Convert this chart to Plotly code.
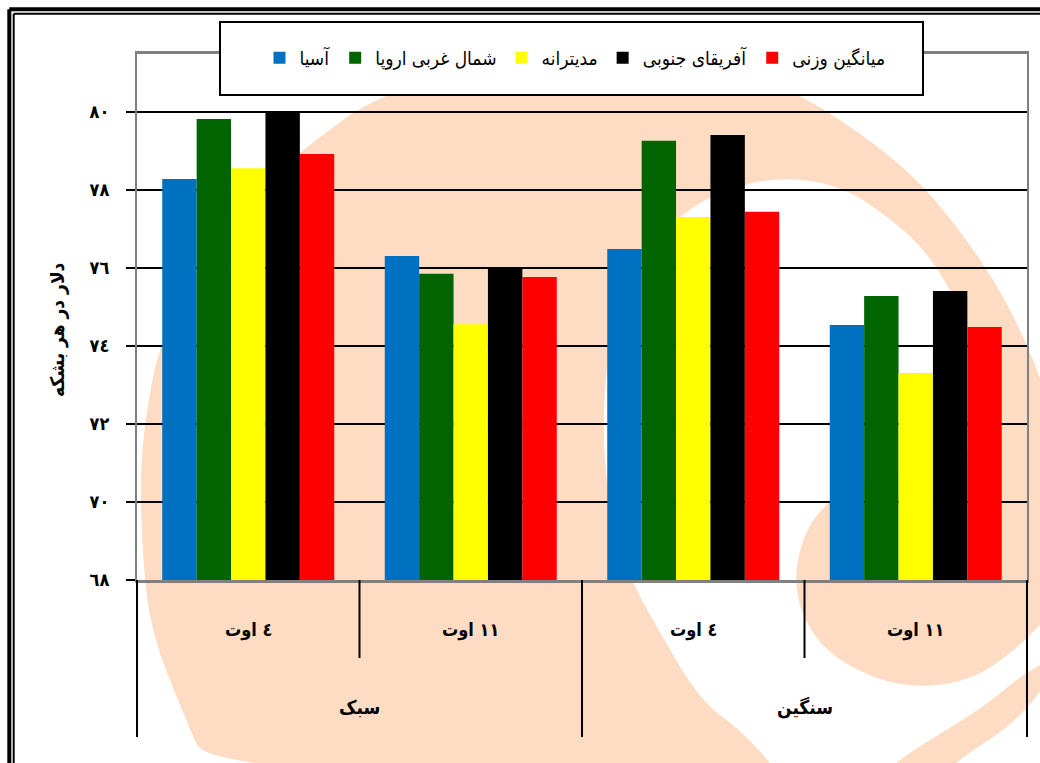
import plotly.graph_objects as go

# ---------------- data ----------------
outer_labels = ["سبک", "سنگین"]
inner_labels = ["٤ اوت", "١١ اوت", "٤ اوت", "١١ اوت"]
outer_of_inner = ["سبک", "سبک", "سنگین", "سنگین"]

series_names = ["آسیا", "شمال غربی اروپا", "مدیترانه", "آفریقای جنوبی", "میانگین وزنی"]
asia = [78.28, 76.31, 76.49, 74.54]
nw_europe = [79.82, 75.85, 79.26, 75.28]
mediterranean = [78.56, 74.56, 77.31, 73.31]
south_africa = [80.0, 76.0, 79.41, 75.41]
weighted_avg = [78.92, 75.77, 77.44, 74.49]

y_tickvals = [68, 70, 72, 74, 76, 78, 80]
y_ticktext = ["٦٨", "٧٠", "٧٢", "٧٤", "٧٦", "٧٨", "٨٠"]
y_title = "دلار در هر بشکه"

colors = ["#0070C0", "#006400", "#FFFF00", "#000000", "#FF0000"]
FONT = "DejaVu Sans Condensed, DejaVu Sans"

# ---------------- geometry helpers (layout only) ----------------
W, H = 1040, 763
L, R, T, B = 137, 1027, 54, 580


def fx(px):
    return (px - L) / (R - L)


def fy(py):
    return (B - py) / (B - T)


def smooth_path(pts):
    P = [(fx(x), fy(y)) for x, y in pts]
    n = len(P)
    mids = [((P[i][0] + P[(i + 1) % n][0]) / 2, (P[i][1] + P[(i + 1) % n][1]) / 2) for i in range(n)]
    d = f"M{mids[-1][0]:.4f},{mids[-1][1]:.4f}"
    for i in range(n):
        d += f" Q{P[i][0]:.4f},{P[i][1]:.4f} {mids[i][0]:.4f},{mids[i][1]:.4f}"
    return d + " Z"


cats = [f"{o} | {i}" for o, i in zip(outer_of_inner, inner_labels)]

fig = go.Figure()
for name, vals, col in zip(series_names,
                           [asia, nw_europe, mediterranean, south_africa, weighted_avg],
                           colors):
    fig.add_trace(go.Bar(x=cats, y=vals, name=name, marker=dict(color=col, line=dict(width=0))))

shapes = []
PEACH = "#FDDCC3"
# watermark: big swirl
big = [(210, 775), (183, 713), (152, 635), (143, 565), (140, 480), (145, 420), (158, 350),
       (180, 300), (215, 240), (260, 185), (313, 142), (370, 100), (470, 66), (600, 50),
       (720, 58), (807, 98), (873, 142), (923, 185), (967, 240), (1000, 290), (1025, 340),
       (1045, 390), (1060, 460), (1066, 560), (1060, 650), (1040, 695), (1005, 730),
       (965, 755), (940, 778)]
channel = [(603, 400), (612, 330), (645, 250), (700, 198), (773, 176), (840, 185), (890, 218),
           (925, 250), (952, 292), (975, 345), (988, 400), (995, 460), (1005, 530), (1025, 590),
           (1060, 630), (1072, 650), (1045, 662), (1018, 678), (990, 702), (950, 728),
           (905, 755), (880, 778), (780, 778), (768, 760), (740, 730), (700, 700), (657, 628),
           (623, 565), (605, 480)]
blob = [(990, 440), (950, 462), (900, 472), (845, 488), (810, 520), (795, 565), (798, 607),
        (823, 650), (873, 679), (923, 688), (973, 679), (1013, 652), (1045, 620), (1070, 590),
        (1070, 430), (1030, 400)]
for pts, colr in [(big, PEACH), (channel, "white"), (blob, PEACH)]:
    shapes.append(dict(type="path", xref="paper", yref="paper", path=smooth_path(pts),
                       fillcolor=colr, line=dict(width=0), layer="below"))

# outer double border (top and left edges visible; right/bottom lie outside the page)
for pos, wid in [(9.3, 4), (13.7, 2)]:
    shapes.append(dict(type="line", xref="paper", yref="paper", x0=fx(pos), x1=fx(1045),
                       y0=fy(pos), y1=fy(pos), line=dict(color="black", width=wid), layer="above"))
    shapes.append(dict(type="line", xref="paper", yref="paper", x0=fx(pos), x1=fx(pos),
                       y0=fy(pos), y1=fy(770), line=dict(color="black", width=wid), layer="above"))

# legend box
shapes.append(dict(type="rect", xref="paper", yref="paper", x0=fx(220), y0=fy(95), x1=fx(923), y1=fy(22),
                   line=dict(color="black", width=2), fillcolor="white", layer="above"))

# category dividers
n = len(cats)
for k in range(n + 1):
    is_outer = (k % 2 == 0)
    shapes.append(dict(type="line", xref="paper", yref="paper", x0=k / n, x1=k / n,
                       y0=0, y1=fy(737 if is_outer else 658),
                       line=dict(color="black", width=2), layer="above"))

annotations = []
for i, lab in enumerate(inner_labels):
    annotations.append(dict(x=i, xref="x", y=fy(630), yref="paper", text=f"<b>{lab}</b>",
                            showarrow=False, font=dict(family=FONT, size=18, color="black"),
                            xanchor="center", yanchor="middle"))
for j, lab in enumerate(outer_labels):
    annotations.append(dict(x=2 * j + 0.5, xref="x", y=fy(707), yref="paper", text=f"<b>{lab}</b>",
                            showarrow=False, font=dict(family=FONT, size=19, color="black"),
                            xanchor="center", yanchor="middle"))
annotations.append(dict(x=fx(57), xref="paper", y=fy(330), yref="paper", text=f"<b>{y_title}</b>",
                        textangle=-90, showarrow=False, font=dict(family=FONT, size=19, color="black"),
                        xanchor="center", yanchor="middle"))

fig.update_layout(
    width=W, height=H,
    margin=dict(l=L, r=W - R, t=T, b=H - B, pad=0),
    paper_bgcolor="white", plot_bgcolor="rgba(0,0,0,0)",
    barmode="group", bargap=0.227, bargroupgap=0,
    showlegend=True,
    legend=dict(orientation="h", x=fx(575), xanchor="center", y=fy(58), yanchor="middle",
                bgcolor="rgba(0,0,0,0)", borderwidth=0,
                font=dict(family=FONT, size=19, color="black"), traceorder="normal"),
    shapes=shapes, annotations=annotations,
    font=dict(family=FONT, color="black"),
)
fig.update_xaxes(type="category", showticklabels=False, ticks="", showgrid=False,
                 showline=True, linecolor="#808080", linewidth=3, mirror=True, zeroline=False)
fig.update_yaxes(range=[68, 68 + (B - T) / 39.0], tickvals=y_tickvals, ticktext=y_ticktext,
                 showgrid=True, gridcolor="black", gridwidth=2, zeroline=False,
                 showline=True, linecolor="#808080", linewidth=2, mirror=True,
                 ticks="outside", ticklen=9, tickwidth=2, tickcolor="black",
                 ticklabelstandoff=13,
                 tickfont=dict(family=FONT, size=18, color="black", weight="bold"))

fig.write_html("out.html", config={"displayModeBar": False},
               post_script="document.body.style.margin='0';document.body.style.overflow='hidden';")
